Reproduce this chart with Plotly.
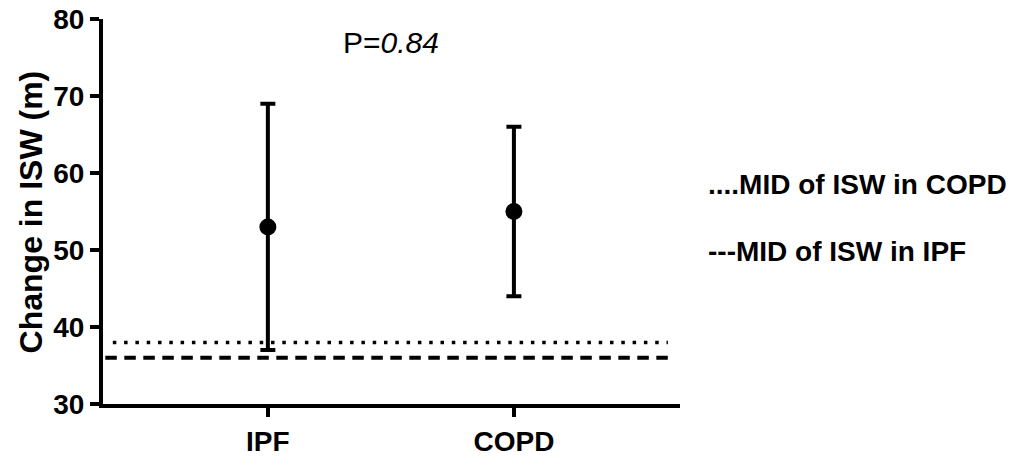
import plotly.graph_objects as go

# Data
categories = ["IPF", "COPD"]
cat_pos = [0, 1]
means = [53, 55]
lower = [37, 44]
upper = [69, 66]
mid_copd = 38
mid_ipf = 36
p_text = "P=<i>0.84</i>"
legend_labels = ["....MID of ISW in COPD", "---MID of ISW in IPF"]
y_ticks = [30, 40, 50, 60, 70, 80]
y_title = "Change in ISW (m)"

FONT = "Arial, Liberation Sans, Helvetica, sans-serif"

fig = go.Figure()
fig.add_trace(go.Scatter(
    x=cat_pos, y=means, mode="markers",
    marker=dict(color="black", size=17),
    error_y=dict(type="data", symmetric=False,
                 array=[u - m for u, m in zip(upper, means)],
                 arrayminus=[m - l for m, l in zip(means, lower)],
                 color="black", thickness=4, width=7.5),
    showlegend=False, hoverinfo="skip"))

# Reference lines (MID values)
fig.add_shape(type="line", xref="paper", yref="y", x0=0.017, x1=0.979,
              y0=mid_copd, y1=mid_copd,
              line=dict(color="black", width=3.5, dash="3.5px,7.8px"))
fig.add_shape(type="line", xref="paper", yref="y", x0=0.004, x1=0.979,
              y0=mid_ipf, y1=mid_ipf,
              line=dict(color="black", width=4, dash="11.5px,7.5px"))

fig.update_layout(
    width=1017, height=456,
    margin=dict(l=103, r=337, t=19, b=52),
    paper_bgcolor="white", plot_bgcolor="white",
    font=dict(family=FONT, color="black"),
    xaxis=dict(range=[-0.67, 1.675], tickvals=cat_pos, ticktext=categories,
               automargin=False, ticklabeloverflow="allow",
               showgrid=False, zeroline=False, showline=True, linecolor="black",
               linewidth=4, ticks="outside", ticklen=9, tickwidth=3.5, tickcolor="black",
               tickfont=dict(size=28, family=FONT, weight="bold")),
    yaxis=dict(range=[30, 80], tickvals=y_ticks, showgrid=False, zeroline=False,
               automargin=False, ticklabeloverflow="allow",
               showline=True, linecolor="black", linewidth=4,
               ticks="outside", ticklen=9, tickwidth=3.5, tickcolor="black",
               tickfont=dict(size=28, family=FONT, weight="bold")),
)

# Y axis title
fig.add_annotation(x=-0.125, y=0.5, xref="paper", yref="paper",
                   text="<b>" + y_title + "</b>", textangle=-90, showarrow=False,
                   font=dict(size=32, family=FONT), xanchor="center", yanchor="middle")

fig.add_annotation(x=0.5, y=1.0, xref="x", yref="paper", text=p_text,
                   showarrow=False, font=dict(size=30, family=FONT),
                   xanchor="center", yanchor="middle", yshift=-23)
fig.add_annotation(x=1.045, y=0.569, xref="paper", yref="paper",
                   text="<b>" + legend_labels[0] + "</b>", showarrow=False,
                   font=dict(size=28, family=FONT), xanchor="left", yanchor="middle")
fig.add_annotation(x=1.045, y=0.397, xref="paper", yref="paper",
                   text="<b>" + legend_labels[1] + "</b>", showarrow=False,
                   font=dict(size=28, family=FONT), xanchor="left", yanchor="middle")

# remove the browser's default 8px body margin so the figure fills the window
fig.write_html("out.html",
               config={"displayModeBar": False, "staticPlot": True},
               post_script="document.body.style.margin='0';document.body.style.overflow='hidden';")
